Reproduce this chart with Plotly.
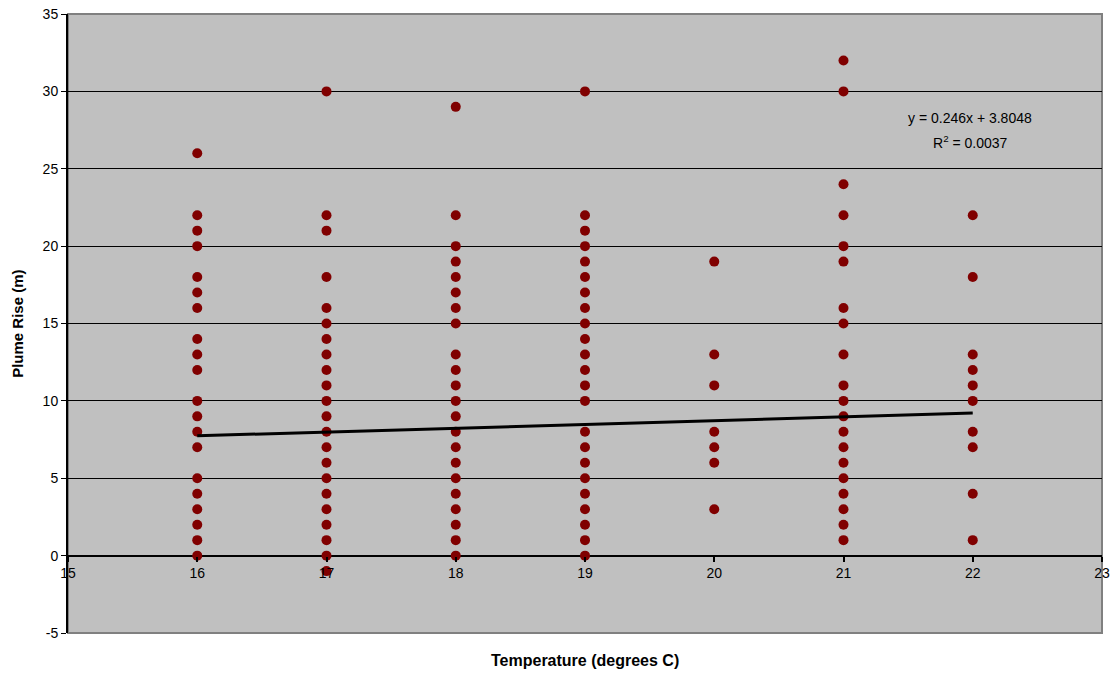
import plotly.graph_objects as go

# Data
temp_16 = [26, 22, 21, 20, 18, 17, 16, 14, 13, 12, 10, 9, 8, 7, 5, 4, 3, 2, 1, 0]
temp_17 = [30, 22, 21, 18, 16, 15, 14, 13, 12, 11, 10, 9, 8, 7, 6, 5, 4, 3, 2, 1, 0, -1]
temp_18 = [29, 22, 20, 19, 18, 17, 16, 15, 13, 12, 11, 10, 9, 8, 7, 6, 5, 4, 3, 2, 1, 0]
temp_19 = [30, 22, 21, 20, 19, 18, 17, 16, 15, 14, 13, 12, 11, 10, 8, 7, 6, 5, 4, 3, 2, 1, 0]
temp_20 = [19, 13, 11, 8, 7, 6, 3]
temp_21 = [32, 30, 24, 22, 20, 19, 16, 15, 13, 11, 10, 9, 8, 7, 6, 5, 4, 3, 2, 1]
temp_22 = [22, 18, 13, 12, 11, 10, 8, 7, 4, 1]

groups = {16: temp_16, 17: temp_17, 18: temp_18, 19: temp_19,
          20: temp_20, 21: temp_21, 22: temp_22}

trend_slope = 0.246
trend_intercept = 3.8048
r_squared = 0.0037

x_ticks = [15, 16, 17, 18, 19, 20, 21, 22, 23]
y_ticks = [-5, 0, 5, 10, 15, 20, 25, 30, 35]

xs, ys = [], []
for t, vals in groups.items():
    xs += [t] * len(vals)
    ys += vals

trend_x = [min(groups), max(groups)]
trend_y = [trend_slope * v + trend_intercept for v in trend_x]

FONT = "Liberation Sans, Arial, sans-serif"

fig = go.Figure()
fig.add_trace(go.Scatter(
    x=xs, y=ys, mode="markers",
    marker=dict(color="#800000", size=10, line=dict(width=0)),
    showlegend=False, hoverinfo="x+y"))
fig.add_trace(go.Scatter(
    x=trend_x, y=trend_y, mode="lines",
    line=dict(color="black", width=3),
    showlegend=False, hoverinfo="skip"))

fig.update_layout(
    width=1114, height=679,
    margin=dict(l=68, r=12, t=14, b=46),
    paper_bgcolor="white", plot_bgcolor="#C0C0C0",
    font=dict(family=FONT, size=14, color="black"),
    xaxis=dict(range=[15, 23], tickvals=x_ticks, ticktext=[str(v) for v in x_ticks],
               showgrid=False, zeroline=False, showline=False, automargin=False,
               anchor="free", position=0.125,
               ticks="outside", ticklen=5, tickcolor="black", tickwidth=2,
               tickfont=dict(size=14, family=FONT, color="black")),
    yaxis=dict(range=[-5, 35], tickvals=y_ticks, ticktext=[str(v) for v in y_ticks],
               showgrid=True, gridcolor="black", gridwidth=1, automargin=False,
               zeroline=True, zerolinecolor="black", zerolinewidth=2,
               showline=True, linecolor="black", linewidth=2,
               ticks="outside", ticklen=5, tickcolor="black", tickwidth=1,
               tickfont=dict(size=14, family=FONT, color="black")),
    shapes=[dict(type="rect", xref="paper", yref="paper", x0=0, x1=1, y0=0, y1=1,
                 line=dict(color="#808080", width=2), layer="below")],
    annotations=[
        dict(x=21.98, y=28.28, xref="x", yref="y",
             text=f"y = {trend_slope}x + {trend_intercept}",
             showarrow=False, align="center", font=dict(size=14, family=FONT)),
        dict(x=21.98, y=26.72, xref="x", yref="y",
             text=f"R<sup>2</sup> = {r_squared}",
             showarrow=False, align="center", font=dict(size=14, family=FONT)),
        dict(x=0.5, y=-0.045, xref="paper", yref="paper", yanchor="middle",
             text="<b>Temperature (degrees C)</b>", showarrow=False,
             font=dict(size=16, family=FONT)),
        dict(x=-0.049, y=0.5, xref="paper", yref="paper", xanchor="center",
             text="<b>Plume Rise (m)</b>", textangle=-90, showarrow=False,
             font=dict(size=15, family=FONT)),
    ],
)

fig.write_html("out.html")
